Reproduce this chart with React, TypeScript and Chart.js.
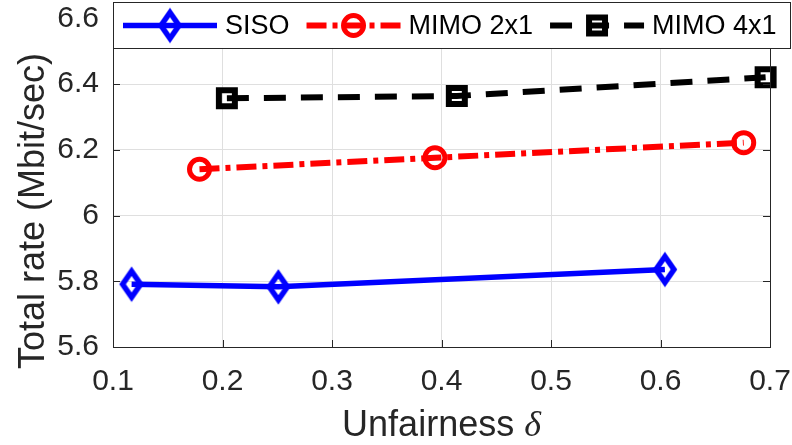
import React, { useEffect, useRef } from "react";
import { Chart, registerables } from "chart.js";

Chart.register(...registerables);

// ---------------- data ----------------
const seriesNames = ["SISO", "MIMO 2x1", "MIMO 4x1"];
const sisoX = [0.117, 0.251, 0.604];
const sisoY = [5.791, 5.783, 5.836];
const mimo2X = [0.179, 0.394, 0.676];
const mimo2Y = [6.141, 6.176, 6.222];
const mimo4X = [0.204, 0.414, 0.696];
const mimo4Y = [6.357, 6.364, 6.421];
const xTicks = [0.1, 0.2, 0.3, 0.4, 0.5, 0.6, 0.7];
const yTicks = [5.6, 5.8, 6, 6.2, 6.4, 6.6];
const xRange = [0.1, 0.7];
const yRange = [5.6, 6.65];
const xTitleText = "Unfairness ";
const xTitleSymbol = "δ";
const yTitleText = "Total rate (Mbit/sec)";

const FONT = "'Liberation Sans', Arial, Helvetica, sans-serif";
const AXIS_COLOR = "#262626";
const GRID_COLOR = "#dfdfdf";

function zip(xs: number[], ys: number[]) {
  return xs.map((x, i) => ({ x, y: ys[i] }));
}

function fmt(v: number) {
  return String(Number(Number(v).toFixed(2)));
}

function makeDiamond(color: string) {
  const c = document.createElement("canvas");
  c.width = 28;
  c.height = 38;
  const g = c.getContext("2d")!;
  g.strokeStyle = color;
  g.lineWidth = 5.5;
  g.lineJoin = "miter";
  g.beginPath();
  g.moveTo(14, 19 - 13);
  g.lineTo(14 + 9, 19);
  g.lineTo(14, 19 + 13);
  g.lineTo(14 - 9, 19);
  g.closePath();
  g.stroke();
  return c;
}

function drawMarker(ctx: CanvasRenderingContext2D, ds: any, x: number, y: number) {
  const style = ds.pointStyle;
  ctx.save();
  if (typeof style === "object" && style) {
    ctx.drawImage(style, x - style.width / 2, y - style.height / 2);
  } else if (style === "circle") {
    ctx.beginPath();
    ctx.arc(x, y, ds.pointRadius, 0, Math.PI * 2);
    ctx.strokeStyle = ds.pointBorderColor;
    ctx.lineWidth = ds.pointBorderWidth;
    ctx.stroke();
  } else if (style === "rect") {
    const s = ds.pointRadius * Math.SQRT1_2;
    ctx.strokeStyle = ds.pointBorderColor;
    ctx.lineWidth = ds.pointBorderWidth;
    ctx.strokeRect(x - s, y - s, 2 * s, 2 * s);
  }
  ctx.restore();
}

function zeroPad(s: any) {
  s.paddingTop = 0;
  s.paddingBottom = 0;
  s.paddingLeft = 0;
  s.paddingRight = 0;
}

const framePlugin = {
  id: "matlabFrame",
  afterDatasetsDraw(chart: any) {
    const ctx: CanvasRenderingContext2D = chart.ctx;
    const ca = chart.chartArea;
    const xs = chart.scales.x;
    const ys = chart.scales.y;
    ctx.save();
    // box
    ctx.strokeStyle = AXIS_COLOR;
    ctx.lineWidth = 1;
    ctx.beginPath();
    ctx.moveTo(ca.left, ca.top + 0.5);
    ctx.lineTo(ca.right + 0.5, ca.top + 0.5);
    ctx.lineTo(ca.right + 0.5, ca.bottom);
    ctx.stroke();
    // inward ticks
    const tl = 7;
    ctx.beginPath();
    xTicks.forEach((v) => {
      const px = Math.round(xs.getPixelForValue(v)) + 0.5;
      ctx.moveTo(px, ca.bottom);
      ctx.lineTo(px, ca.bottom - tl);
      ctx.moveTo(px, ca.top);
      ctx.lineTo(px, ca.top + tl);
    });
    yTicks.forEach((v) => {
      const py = Math.round(ys.getPixelForValue(v)) + 0.5;
      ctx.moveTo(ca.left, py);
      ctx.lineTo(ca.left + tl, py);
      ctx.moveTo(ca.right, py);
      ctx.lineTo(ca.right - tl, py);
    });
    ctx.stroke();

    // legend box
    const lLeft = ca.left;
    const lTop = ca.top;
    const lRight = 791;
    const lBottom = 49;
    ctx.fillStyle = "#ffffff";
    ctx.fillRect(lLeft, lTop, lRight - lLeft, lBottom - lTop);
    ctx.strokeStyle = AXIS_COLOR;
    ctx.lineWidth = 1;
    ctx.strokeRect(lLeft + 0.5, lTop + 0.5, lRight - lLeft - 1, lBottom - lTop - 1);

    const cy = (lTop + lBottom) / 2;
    let x = lLeft + 10;
    ctx.font = `27px ${FONT}`;
    chart.data.datasets.forEach((ds: any) => {
      ctx.save();
      ctx.strokeStyle = ds.borderColor;
      ctx.lineWidth = ds.borderWidth;
      ctx.setLineDash(ds.borderDash || []);
      ctx.lineCap = "butt";
      ctx.beginPath();
      ctx.moveTo(x, cy);
      ctx.lineTo(x + 94, cy);
      ctx.stroke();
      ctx.restore();
      drawMarker(ctx, ds, x + 47, cy);
      ctx.fillStyle = "#000000";
      ctx.textBaseline = "middle";
      ctx.textAlign = "left";
      ctx.fillText(ds.label, x + 102, cy + 1);
      x = x + 102 + ctx.measureText(ds.label).width + 17;
    });
    ctx.restore();
  },
  afterDraw(chart: any) {
    const ctx: CanvasRenderingContext2D = chart.ctx;
    const ca = chart.chartArea;
    ctx.save();
    ctx.fillStyle = AXIS_COLOR;
    // x title
    const f1 = `36px ${FONT}`;
    const f2 = `italic 36px 'Liberation Serif', 'DejaVu Serif', serif`;
    ctx.font = f1;
    const w1 = ctx.measureText(xTitleText).width;
    ctx.font = f2;
    const w2 = ctx.measureText(xTitleSymbol).width;
    const cx = (ca.left + ca.right) / 2;
    const sx = cx - (w1 + w2) / 2;
    ctx.textBaseline = "alphabetic";
    ctx.textAlign = "left";
    ctx.font = f1;
    ctx.fillText(xTitleText, sx, 436);
    ctx.font = f2;
    ctx.fillText(xTitleSymbol, sx + w1, 436);
    // y title
    ctx.translate(44, 211);
    ctx.rotate(-Math.PI / 2);
    ctx.font = f1;
    ctx.textAlign = "center";
    ctx.fillText(yTitleText, 0, 0);
    ctx.restore();
  },
};

export default function App() {
  const ref = useRef<HTMLCanvasElement | null>(null);

  useEffect(() => {
    document.body.style.margin = "0";
    const canvas = ref.current!;
    const diamond = makeDiamond("#0000ff");
    const chart = new Chart(canvas, {
      type: "line",
      data: {
        datasets: [
          {
            label: seriesNames[0],
            data: zip(sisoX, sisoY),
            borderColor: "#0000ff",
            borderWidth: 5.5,
            pointStyle: diamond as any,
            pointRadius: 12,
            pointBorderColor: "#0000ff",
            pointBackgroundColor: "rgba(0,0,0,0)",
            clip: false as any,
          },
          {
            label: seriesNames[1],
            data: zip(mimo2X, mimo2Y),
            borderColor: "#ff0000",
            borderWidth: 6,
            borderDash: [20, 6, 5, 6],
            pointStyle: "circle",
            pointRadius: 10,
            pointBorderWidth: 5,
            pointBorderColor: "#ff0000",
            pointBackgroundColor: "rgba(0,0,0,0)",
            clip: false as any,
          },
          {
            label: seriesNames[2],
            data: zip(mimo4X, mimo4Y),
            borderColor: "#000000",
            borderWidth: 6,
            borderDash: [22, 15],
            pointStyle: "rect",
            pointRadius: 11.3,
            pointBorderWidth: 6,
            pointBorderColor: "#000000",
            pointBackgroundColor: "rgba(0,0,0,0)",
            clip: false as any,
          },
        ] as any,
      },
      options: {
        animation: false,
        responsive: false,
        events: [],
        layout: { autoPadding: false, padding: { top: 2, right: 22, left: 0, bottom: 0 } },
        elements: { line: { tension: 0, fill: false } },
        plugins: {
          legend: { display: false },
          tooltip: { enabled: false },
          title: { display: false },
        },
        scales: {
          x: {
            type: "linear",
            min: xRange[0],
            max: xRange[1],
            afterBuildTicks: (s: any) => {
              s.ticks = xTicks.map((v) => ({ value: v }));
            },
            afterFit: (s: any) => {
              s.height = 98;
              zeroPad(s);
            },
            grid: { color: GRID_COLOR, lineWidth: 1, drawTicks: false },
            border: { color: AXIS_COLOR, width: 1 },
            ticks: {
              color: AXIS_COLOR,
              font: { family: FONT, size: 30 },
              padding: 17,
              maxRotation: 0,
              autoSkip: false,
              callback: (v: any) => fmt(v),
            },
          },
          y: {
            type: "linear",
            min: yRange[0],
            max: yRange[1],
            afterBuildTicks: (s: any) => {
              s.ticks = yTicks.map((v) => ({ value: v }));
            },
            afterFit: (s: any) => {
              s.width = 113;
              zeroPad(s);
            },
            grid: { color: GRID_COLOR, lineWidth: 1, drawTicks: false },
            border: { color: AXIS_COLOR, width: 1 },
            ticks: {
              color: AXIS_COLOR,
              font: { family: FONT, size: 30 },
              padding: 14,
              autoSkip: false,
              callback: (v: any) => fmt(v),
            },
          },
        },
      } as any,
      plugins: [framePlugin],
    });
    return () => chart.destroy();
  }, []);

  return (
    <div style={{ width: 792, height: 445 }}>
      <canvas ref={ref} width={792} height={445} style={{ display: "block" }} />
    </div>
  );
}
